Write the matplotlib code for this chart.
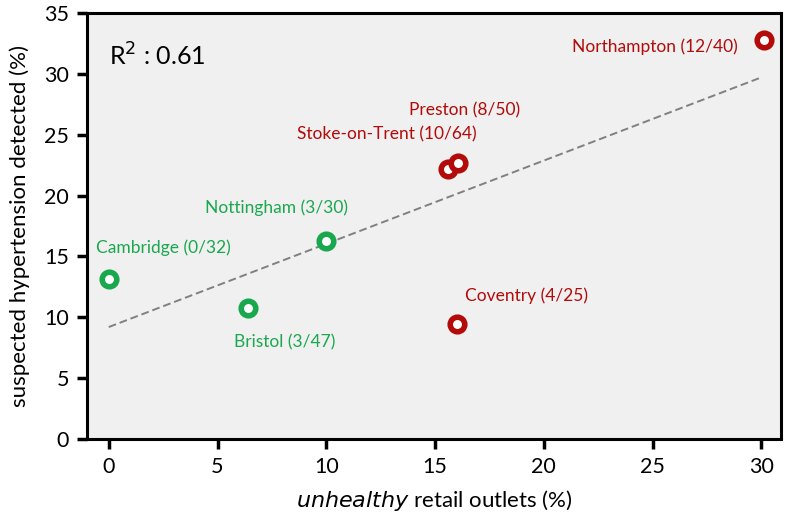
import matplotlib.pyplot as plt
import numpy as np

plt.rcParams["font.family"] = ["Lato", "DejaVu Sans"]

# city data: unhealthy retail outlets (%) vs suspected hypertension detected (%)
cities = ["Cambridge", "Bristol", "Nottingham", "Stoke-on-Trent", "Preston", "Coventry", "Northampton"]
counts = ["(0/32)", "(3/47)", "(3/30)", "(10/64)", "(8/50)", "(4/25)", "(12/40)"]
unhealthy = [0.0, 6.4, 10.0, 15.6, 16.05, 16.0, 30.1]
hypertension = [13.15, 10.8, 16.3, 22.2, 22.7, 9.45, 32.8]
is_high = [False, False, False, True, True, True, True]
label_pos = [(2.5, 15.7), (8.1, 7.9), (7.7, 19.0), (12.8, 25.0), (16.35, 27.0), (19.2, 11.8), (25.1, 32.2)]
r2_text = "0.61"

GREEN = "#1aa84e"
RED = "#b30a0a"

fig = plt.figure(figsize=(7.87, 5.23), dpi=100)
ax = fig.add_axes([0.1105, 0.1606, 0.8819, 0.8144])
ax.set_facecolor("#f0f0f0")

# regression line
x = np.array(unhealthy)
y = np.array(hypertension)
slope, intercept = np.polyfit(x, y, 1)
xs = np.array([0.0, 30.0])
ax.plot(xs, slope * xs + intercept + 0.2, color="#808080", lw=1.4, ls=(0, (4, 2)), zorder=2)

for i in range(len(cities)):
    c = RED if is_high[i] else GREEN
    ax.plot(unhealthy[i], hypertension[i], "o", ms=10.5, mfc="white", mec=c, mew=4, zorder=3)
    lx, ly = label_pos[i]
    ax.text(lx, ly, cities[i] + " " + counts[i], color=c, fontsize=12.5, ha="center", va="center")

ax.text(0.02, 31.5, "R$^2$ : " + r2_text, fontsize=18, va="center")

ax.set_xlim(-1.0, 30.9)
ax.set_ylim(0, 35)
ax.set_xticks(range(0, 31, 5))
ax.set_yticks(range(0, 36, 5))
ax.tick_params(direction="out", length=7, width=2.5, labelsize=15.5, pad=6)
for s in ax.spines.values():
    s.set_linewidth(2.2)

ax.set_xlabel("$\\it{unhealthy}$ retail outlets (%)", fontsize=16, labelpad=8)
ax.set_ylabel("suspected hypertension detected (%)", fontsize=16, labelpad=10)

fig.savefig("out.png", dpi=100)
